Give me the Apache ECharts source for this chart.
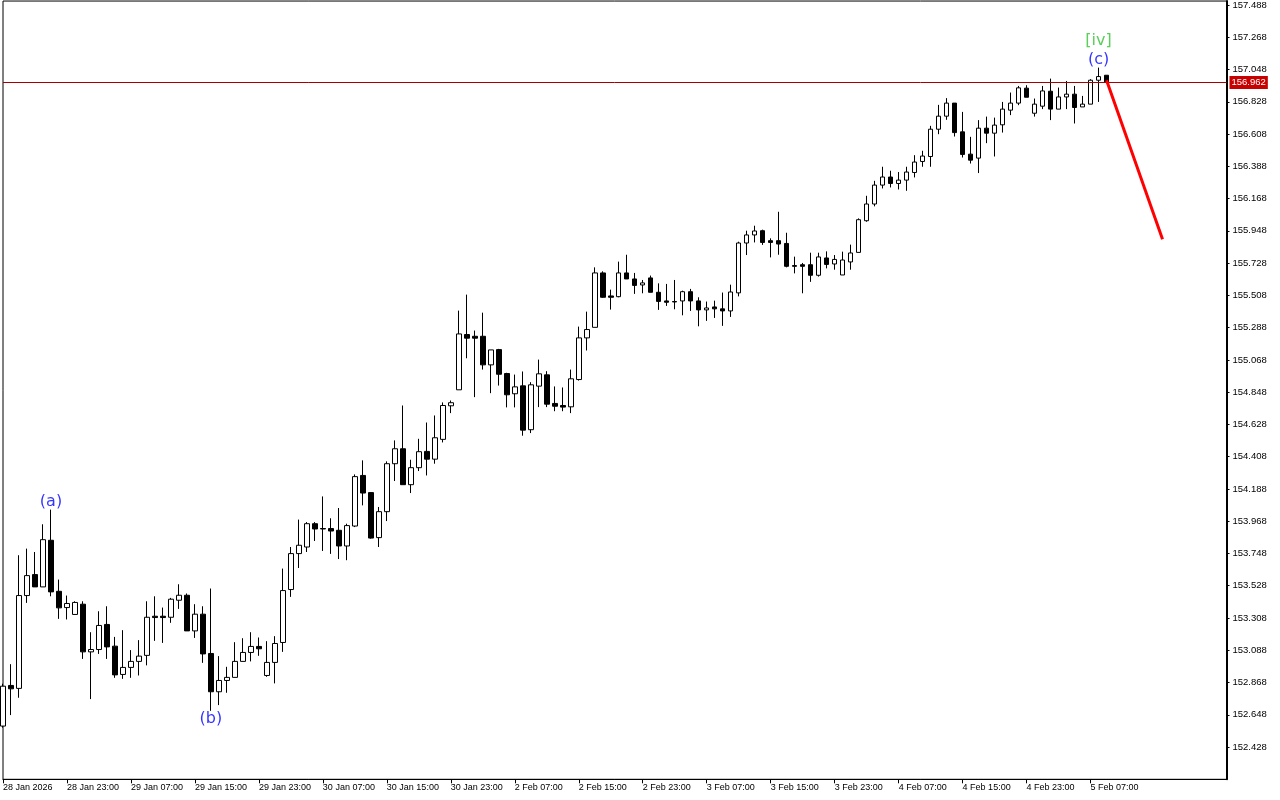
<!DOCTYPE html>
<html>
<head>
<meta charset="utf-8">
<script src="https://cdn.jsdelivr.net/npm/echarts@6/dist/echarts.min.js"></script>
<style>
html,body{margin:0;padding:0;background:#fff;}
#chart{width:1280px;height:800px;}
</style>
</head>
<body>
<div id="chart"></div>
<script>
// ---- Data (H1 candles) ----
const opens = [152.571,152.848,152.828,153.461,153.604,153.520,153.838,153.490,153.379,153.332,
153.402,153.077,153.093,153.264,153.116,152.923,152.971,153.012,153.053,153.320,
153.320,153.313,153.429,153.463,153.220,153.334,153.066,152.805,152.882,152.903,
153.012,153.073,153.114,152.916,153.005,153.141,153.502,153.747,153.792,153.951,
153.918,153.918,153.906,153.799,153.935,154.280,154.163,153.856,154.033,154.360,
154.462,154.217,154.333,154.444,154.391,154.526,154.755,154.864,155.241,155.229,
155.229,155.034,155.138,154.975,154.837,154.891,154.592,154.889,154.966,154.771,
154.757,154.748,154.934,155.218,155.290,155.661,155.504,155.499,155.661,155.620,
155.579,155.627,155.529,155.470,155.466,155.470,155.533,155.470,155.409,155.429,
155.416,155.402,155.525,155.865,155.920,155.949,155.881,155.881,155.862,155.711,
155.717,155.717,155.645,155.763,155.722,155.647,155.736,155.801,156.017,156.131,
156.260,156.315,156.271,156.294,156.346,156.421,156.455,156.641,156.730,156.819,
156.623,156.471,156.444,156.648,156.614,156.671,156.771,156.819,156.921,156.750,
156.798,156.900,156.778,156.861,156.880,156.793,156.812,156.975,157.009];
const highs = [152.860,152.993,153.736,153.781,153.758,153.947,154.047,153.570,153.461,153.422,
153.422,153.211,153.354,153.388,153.179,153.225,153.089,153.157,153.422,153.456,
153.379,153.445,153.538,153.475,153.402,153.388,153.509,153.048,152.975,153.143,
153.170,153.211,153.175,153.150,153.184,153.645,153.792,153.979,153.962,153.962,
154.137,153.988,154.058,153.951,154.287,154.383,154.167,154.065,154.376,154.519,
154.757,154.387,154.530,154.641,154.689,154.778,154.791,155.404,155.513,155.268,
155.390,155.136,155.143,154.980,154.968,154.989,154.916,155.070,154.991,154.887,
154.880,155.002,155.295,155.397,155.699,155.672,155.547,155.738,155.785,155.661,
155.613,155.643,155.590,155.586,155.613,155.540,155.552,155.495,155.466,155.472,
155.527,155.581,155.874,155.949,155.983,155.956,155.897,156.078,155.935,155.772,
155.729,155.799,155.799,155.808,155.783,155.806,155.854,156.033,156.187,156.289,
156.385,156.358,156.349,156.385,156.464,156.494,156.664,156.807,156.853,156.819,
156.759,156.589,156.703,156.727,156.720,156.827,156.891,156.936,156.941,156.850,
156.936,156.986,156.925,156.970,156.936,156.868,156.982,157.061,157.009];
const lows = [152.560,152.646,152.764,153.411,153.520,153.520,153.456,153.302,153.298,153.332,
153.029,152.755,153.063,153.029,152.900,152.893,152.900,152.916,152.985,153.152,
153.138,153.275,153.370,153.220,153.172,153.002,152.675,152.714,152.798,152.903,
153.012,153.012,153.050,152.907,152.862,153.077,153.452,153.649,153.758,153.833,
153.765,153.745,153.710,153.702,153.928,154.076,153.849,153.792,153.969,154.242,
154.217,154.160,154.310,154.280,154.360,154.505,154.705,154.864,155.079,154.814,
155.002,154.841,154.893,154.744,154.744,154.551,154.569,154.746,154.746,154.718,
154.718,154.705,154.927,155.132,155.290,155.491,155.411,155.495,155.620,155.518,
155.522,155.529,155.409,155.436,155.413,155.372,155.402,155.297,155.334,155.354,
155.300,155.361,155.501,155.783,155.869,155.852,155.767,155.785,155.699,155.658,
155.522,155.600,155.636,155.692,155.683,155.647,155.683,155.801,156.010,156.115,
156.237,156.244,156.230,156.221,156.312,156.385,156.385,156.607,156.705,156.591,
156.448,156.407,156.342,156.546,156.455,156.618,156.737,156.805,156.859,156.727,
156.778,156.703,156.778,156.778,156.680,156.793,156.812,156.827,156.962];
const closes = [152.843,152.825,153.461,153.597,153.520,153.842,153.486,153.377,153.407,153.414,
153.077,153.093,153.257,153.111,152.920,152.971,153.012,153.048,153.313,153.311,
153.311,153.436,153.463,153.220,153.334,153.063,152.805,152.882,152.903,153.012,
153.073,153.114,153.098,153.005,153.134,153.495,153.747,153.804,153.951,153.915,
153.915,153.901,153.799,153.938,154.272,154.160,153.853,154.033,154.360,154.462,
154.217,154.333,154.442,154.391,154.537,154.757,154.776,155.245,155.216,155.216,
155.034,155.136,154.970,154.830,154.884,154.589,154.898,154.973,154.766,154.752,
154.746,154.939,155.218,155.275,155.661,155.495,155.495,155.661,155.620,155.576,
155.593,155.529,155.467,155.461,155.463,155.533,155.470,155.409,155.422,155.416,
155.402,155.531,155.865,155.920,155.947,155.869,155.869,155.858,155.706,155.706,
155.706,155.645,155.770,155.719,155.753,155.749,155.797,156.024,156.131,156.260,
156.315,156.271,156.294,156.349,156.417,156.458,156.641,156.730,156.819,156.618,
156.469,156.430,156.648,156.614,156.669,156.778,156.819,156.923,156.859,156.812,
156.902,156.778,156.861,156.880,156.789,156.812,156.975,157.000,156.962];

// hourly bar times: 28 Jan 15:00 .. 30 Jan 23:00, then 2 Feb 00:00 .. 5 Feb 09:00
const sessions = [
  {day: 28, month: 'Jan', startHour: 15, bars: 57},
  {day: 2, month: 'Feb', startHour: 0, bars: 82}
];
const futureSlots = 15;          // empty slots right of the last bar (chart shift)
const labelEvery = 8;            // x labels every 8 bars
const firstLabel = '28 Jan 2026';

const currentPrice = 156.962;
const projection = [[138, 156.975], [145, 155.890]];   // red forecast line (bar index, price)

const waveNames = ['(a)', '(b)', '(c)', '[iv]'];
const waveBars = [6, 26, 137, 137];
const wavePrices = [154.103, 152.619, 157.113, 157.245];
const waveColors = ['#0000ff', '#0000ff', '#0000ff', '#33c233'];

const yMin = 152.208, yMax = 157.515, yStep = 0.22;

// ---- build categories ----
const pad = n => (n < 10 ? '0' + n : '' + n);
const categories = [];
sessions.forEach(s => {
  for (let i = 0; i < s.bars; i++) {
    const h = s.startHour + i;
    categories.push((s.day + Math.floor(h / 24)) + ' ' + s.month + ' ' + pad(h % 24) + ':00');
  }
});
const barCount = categories.length;
for (let i = 0; i < futureSlots; i++) categories.push('');

const candleData = opens.map((o, i) => [o, closes[i], lows[i], highs[i]]);
const showIdx = (i) => i % labelEvery === 0 && i < barCount;

const chart = echarts.init(document.getElementById('chart'), null, {renderer: 'canvas'});
const axisFont = 'Liberation Sans, Arial, sans-serif';

chart.setOption({
  animation: false,
  backgroundColor: '#ffffff',
  grid: {left: 2.5, right: 53.5, top: 0, bottom: 20.7, show: true, borderColor: '#000', borderWidth: 1, backgroundColor: '#ffffff'},
  xAxis: {
    type: 'category', data: categories, boundaryGap: false,
    axisLine: {show: true, lineStyle: {color: '#000', width: 1}},
    axisTick: {show: true, interval: (i) => showIdx(i), length: 4, lineStyle: {color: '#000'}},
    axisLabel: {
      interval: (i) => showIdx(i), align: 'left', margin: 4,
      fontFamily: axisFont, fontSize: 9, color: '#000',
      formatter: (v, i) => (i === 0 ? firstLabel : v)
    },
    splitLine: {show: false}
  },
  yAxis: {
    type: 'value', position: 'right', min: yMin, max: yMax, interval: yStep,
    axisLine: {show: true, lineStyle: {color: '#000', width: 2}},
    axisTick: {show: true, length: 3, lineStyle: {color: '#000'}},
    axisLabel: {showMinLabel: false, showMaxLabel: false, margin: 6, fontFamily: axisFont, fontSize: 9.5, color: '#000',
      formatter: (v) => v.toFixed(3)},
    splitLine: {show: false}
  },
  series: [
    {
      type: 'candlestick', data: candleData, barWidth: 5, clip: false,
      itemStyle: {color: '#ffffff', color0: '#000000', borderColor: '#000000', borderColor0: '#000000', borderWidth: 1},
      markLine: {
        silent: true, symbol: 'none', animation: false,
        lineStyle: {color: '#a80000', width: 1, type: 'solid'},
        label: {show: true, position: 'end', distance: 3, formatter: currentPrice.toFixed(3),
          backgroundColor: '#c80000', color: '#ffffff', fontFamily: axisFont, fontSize: 9.5, padding: [2, 2, 1, 2]},
        data: [{yAxis: currentPrice}]
      }
    },
    {
      type: 'line', data: projection, showSymbol: false, symbol: 'none', z: 5,
      lineStyle: {color: '#ff0000', width: 3}
    },
    {
      type: 'scatter', symbolSize: 1, z: 6,
      itemStyle: {color: 'rgba(0,0,0,0)'},
      data: waveNames.map((n, i) => ({
        name: n, value: [waveBars[i], wavePrices[i]],
        label: {show: true, position: 'inside', formatter: n, color: waveColors[i],
          fontFamily: 'DejaVu Sans, sans-serif', fontSize: 16}
      }))
    }
  ]
});
</script>
</body>
</html>
